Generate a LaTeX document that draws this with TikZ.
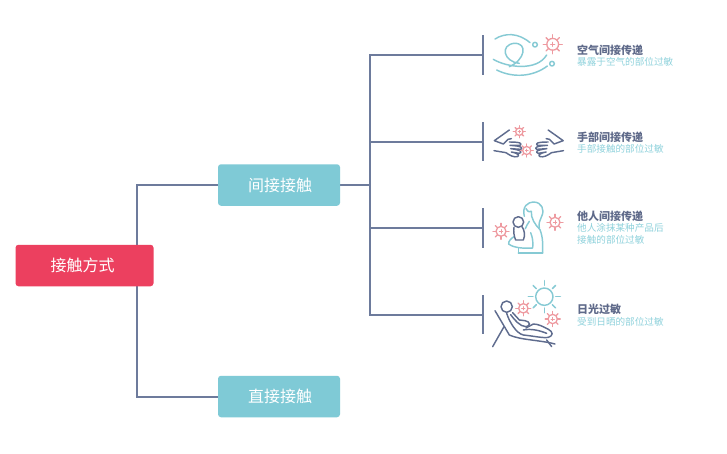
\documentclass[tikz,border=0pt]{standalone}
\usepackage{fontspec}
\setmainfont{Noto Sans CJK SC}
\definecolor{boxteal}{HTML}{7FCAD6}
\definecolor{boxred}{HTML}{EC405F}
\definecolor{linec}{HTML}{6D7B9C}
\definecolor{titlec}{HTML}{5F6A8A}
\definecolor{subc}{HTML}{8FD2DC}
\definecolor{icont}{HTML}{86CAD4}
\definecolor{iconp}{HTML}{EE9AA0}
\definecolor{icond}{HTML}{5F6C8E}
\newcommand{\handpaths}{%
  \draw[icd] (58,30) -- (13,62) -- (40,72) -- (54,58) -- (64,56);
  \draw[icd] (12,92) -- (48,98) .. controls (62,108) and (72,112) .. (82,110) .. controls (90,106) and (85,100) .. (64,96) -- (88,100) .. controls (98,96) and (94,90) .. (62,86) -- (92,88) .. controls (100,84) and (96,78) .. (60,76) -- (90,76) .. controls (98,70) and (90,66) .. (58,66);
}
\tikzset{
  x=1pt,y=-1pt,
  mainbox/.style={rounded corners=3pt,minimum height=41.5pt,inner sep=0pt,text=white,font=\fontsize{16}{18}\selectfont},
  tealbox/.style={mainbox,fill=boxteal,minimum width=122pt},
  redbox/.style={mainbox,fill=boxred,minimum width=138pt},
  conn/.style={draw=linec,line width=1.4pt},
  capt/.style={anchor=north west,inner sep=0pt,text=titlec,font=\fontsize{11}{12}\selectfont\bfseries},
  subt/.style={anchor=north west,inner sep=0pt,text=subc,align=left,font=\fontsize{9.6}{12}\selectfont},
  ict/.style={draw=icont,line width=1.45pt,line cap=round,line join=round},
  icd/.style={draw=icond,line width=1.45pt,line cap=round,line join=round},
  icp/.style={draw=iconp,line width=1.3pt,line cap=round},
  zoomed/.style={x=0.3333pt,y=-0.3333pt},
  pics/virus/.style={code={
    \draw[icp] (0,0) circle[radius=#1*0.62];
    \foreach \a in {0,45,...,315}{\draw[icp] (\a:#1*0.62) -- (\a:#1);}
    \draw[icp,line width=0.9pt] (-#1*0.22,0) -- (#1*0.22,0) (0,-#1*0.22) -- (0,#1*0.22);
  }}
}
\begin{document}
\begin{tikzpicture}
\useasboundingbox (0,0) rectangle (727,453);
\fill[white] (0,0) rectangle (727,453);
% junctions
\coordinate (tl) at (137,185);
\coordinate (bl) at (137,397);
\coordinate (bus) at (370,185);
\coordinate (b1) at (370,55);
\coordinate (b2) at (370,142);
\coordinate (b3) at (370,228);
\coordinate (b4) at (370,315);
\coordinate (e1) at (483,55);
\coordinate (e2) at (483,142);
\coordinate (e3) at (483,228);
\coordinate (e4) at (483,315);
\coordinate (r1) at (137,266);
\draw[conn] (r1) -- (tl) -- (218,185);
\draw[conn] (r1) -- (bl) -- (218,397);
\draw[conn] (340,185) -- (bus);
\draw[conn] (e1) -- (b1) -- (b4) -- (e4);
\draw[conn] (b2) -- (e2);
\draw[conn] (b3) -- (e3);
\draw[conn] (483,35) -- (483,75);
\draw[conn] (483,122) -- (483,161);
\draw[conn] (483,208) -- (483,248);
\draw[conn] (483,295) -- (483,334);
\node[redbox] (root) at (84.5,265.5) {\kern-4pt 接触方式};
\node[tealbox] (indirect) at (279,185) {\kern2pt 间接接触};
\node[tealbox] (direct) at (279,396.5) {\kern2pt 直接接触};
% texts
\node[capt] (t1) at (577,44.5) {空气间接传递};
\node[subt] (s1) at (577,57) {暴露于空气的部位过敏};
\node[capt] (t2) at (577,131.5) {手部间接传递};
\node[subt] (s2) at (577,144) {手部接触的部位过敏};
\node[capt] (t3) at (577,210.5) {他人间接传递};
\node[subt] (s3) at (577,223) {他人涂抹某种产品后\\接触的部位过敏};
\node[capt] (t4) at (577,303.5) {日光过敏};
\node[subt] (s4) at (577,317) {受到日晒的部位过敏};
% air icon
\begin{scope}[shift={(490,30)},zoomed]
\draw[ict] (15,27) .. controls (45,8) and (85,8) .. (120,38);
\draw[ict] (135,44) circle[radius=7];
\draw[ict] (10,88) .. controls (50,112) and (140,125) .. (170,75);
\draw[ict] (88,100) .. controls (40,95) and (30,45) .. (72,40) .. controls (115,38) and (105,90) .. (58,110);
\draw[ict] (20,120) .. controls (70,145) and (130,140) .. (172,108);
\draw[ict] (186,101) circle[radius=7];
\end{scope}
\pic at (552.7,44.3) {virus=9.5};
% hands icon
\begin{scope}[shift={(490,120)},zoomed]
\handpaths
\end{scope}
\begin{scope}[shift={(567.5,120)},x=-0.3333pt,y=-0.3333pt]
\handpaths
\end{scope}
\pic at (519.3,131.7) {virus=6};
\pic at (526.7,150.5) {virus=6.5};
% person icon
\begin{scope}[shift={(490,198)},zoomed]
\draw[ict] (103,55) .. controls (95,25) and (115,12) .. (130,12) .. controls (155,12) and (165,35) .. (155,55) .. controls (150,68) and (145,75) .. (148,90);
\draw[ict] (108,32) .. controls (115,45) and (120,40) .. (124,40) .. controls (122,60) and (135,80) .. (150,95) .. controls (160,120) and (158,145) .. (158,165);
\draw[ict] (118,70) .. controls (112,80) and (108,85) .. (106,92);
\draw[ict] (72,116) .. controls (62,122) and (55,130) .. (56,138) .. controls (70,150) and (105,152) .. (128,150) .. controls (130,135) and (128,118) .. (122,104);
\draw[ict] (85,165) -- (158,165);
\draw[ict] (86,150) -- (86,165);
\draw[icd] (85,72) circle[radius=16];
\draw[icd] (72,88) .. controls (70,100) and (72,115) .. (77,126) -- (100,126) .. controls (106,112) and (104,98) .. (96,86);
\end{scope}
\pic at (501,231.3) {virus=8};
\pic at (555,222.3) {virus=8};
% sun icon
\begin{scope}[shift={(490,280)},zoomed]
\draw[ict] (163,50) circle[radius=26];
\foreach \a in {0,45,...,315}{\draw[ict] (163,50)++(\a:34) -- ++(\a:14);}
\draw[icd] (50,80) circle[radius=17];
\draw[icd] (15,92) -- (58,165) .. controls (90,180) and (150,180) .. (195,192);
\draw[icd] (42,140) -- (8,200);
\draw[icd] (170,180) -- (185,200);
\draw[icd] (62,104) .. controls (72,118) and (90,140) .. (108,140) .. controls (122,138) and (122,125) .. (105,122) -- (88,120) -- (68,98);
\draw[icd] (50,100) .. controls (58,125) and (78,160) .. (100,165) .. controls (130,168) and (160,175) .. (175,172) .. controls (190,168) and (190,155) .. (175,148) .. controls (160,140) and (145,132) .. (130,132) -- (108,144);
\draw[icd] (100,150) .. controls (125,145) and (150,152) .. (170,160);
\end{scope}
\pic at (523.3,308.3) {virus=7.5};
\pic at (552.7,319) {virus=7.5};
\end{tikzpicture}
\end{document}
